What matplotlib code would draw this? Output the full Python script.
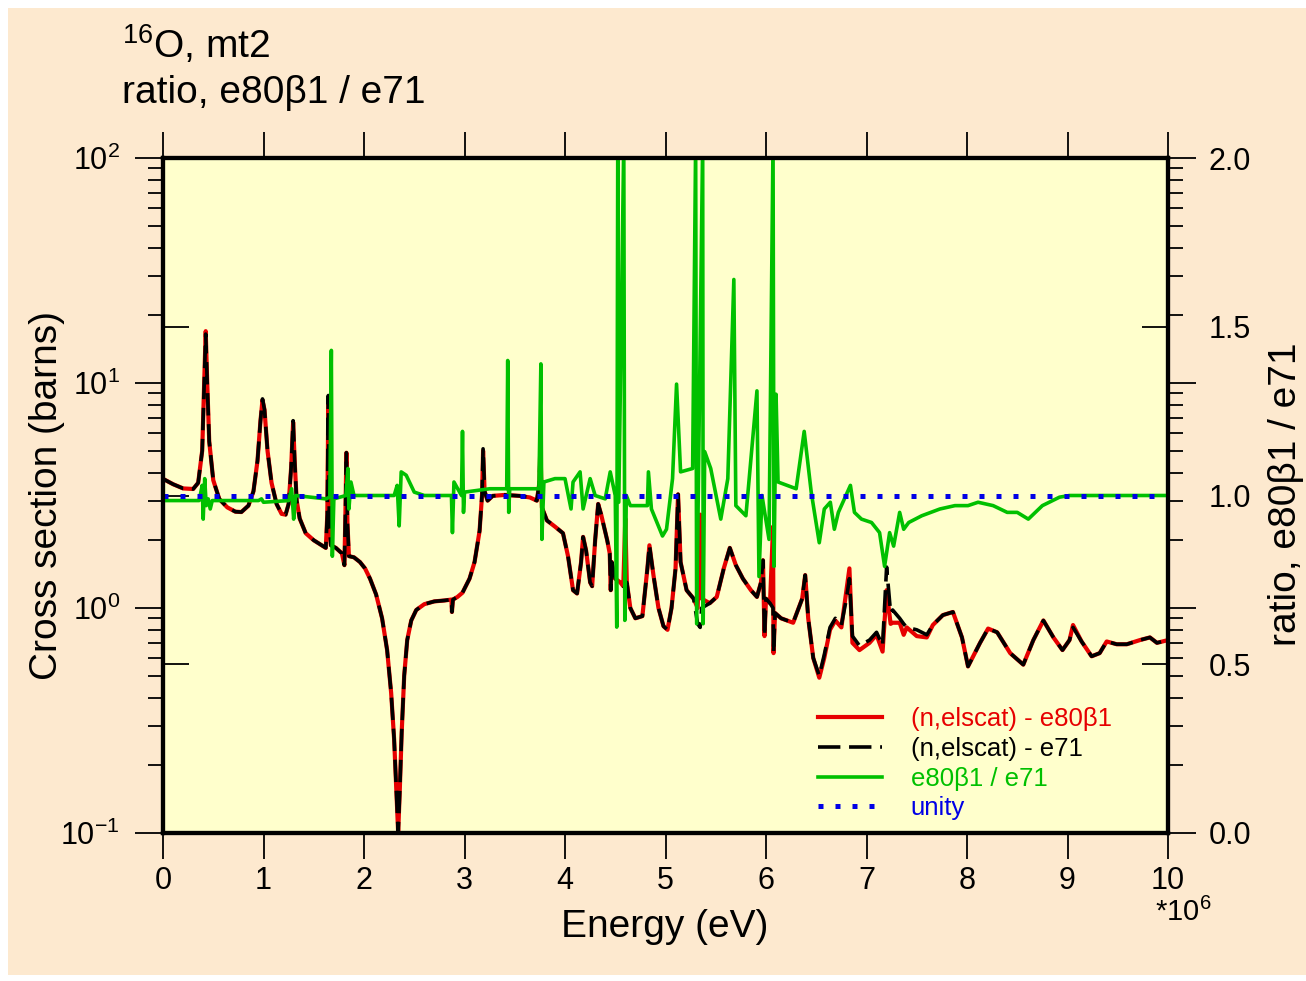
import matplotlib
matplotlib.use("Agg")
import matplotlib.pyplot as plt
from matplotlib.ticker import LogLocator, NullFormatter
from matplotlib.patches import Rectangle

plt.rcParams['font.family'] = ['Liberation Sans', 'DejaVu Sans']
plt.rcParams['mathtext.fontset'] = 'custom'
plt.rcParams['mathtext.rm'] = 'Liberation Sans'
plt.rcParams['mathtext.it'] = 'Liberation Sans:italic'
plt.rcParams['mathtext.bf'] = 'Liberation Sans:bold'

# elastic cross section of O-16, energy in MeV, sigma in barns
energy = [0.00, 0.10, 0.20, 0.30, 0.35, 0.39, 0.41, 0.425, 0.44, 0.46, 0.50, 0.56, 0.64, 0.72, 0.78,
          0.85, 0.90, 0.94, 0.97, 0.99, 1.01, 1.04, 1.08, 1.13, 1.18, 1.22, 1.25, 1.275, 1.295, 1.31,
          1.33, 1.36, 1.42, 1.50, 1.58, 1.62, 1.635, 1.645, 1.655, 1.67, 1.72, 1.78, 1.805, 1.815, 1.825,
          1.835, 1.85, 1.90, 1.96, 2.01, 2.06, 2.12, 2.18, 2.23, 2.27, 2.30, 2.32, 2.34, 2.355, 2.375,
          2.40, 2.43, 2.47, 2.52, 2.60, 2.70, 2.80, 2.87, 2.875, 2.885, 2.93, 2.98, 3.05, 3.10, 3.15,
          3.175, 3.185, 3.20, 3.23, 3.28, 3.40, 3.55, 3.65, 3.72, 3.745, 3.755, 3.77, 3.82, 3.90, 3.98,
          4.03, 4.08, 4.12, 4.16, 4.18, 4.21, 4.25, 4.27, 4.30, 4.33, 4.36, 4.42, 4.445, 4.455, 4.465,
          4.50, 4.55, 4.58, 4.60, 4.615, 4.65, 4.70, 4.77, 4.82, 4.84, 4.88, 4.93, 4.98, 5.02, 5.06,
          5.10, 5.125, 5.15, 5.21, 5.28, 5.32, 5.345, 5.36, 5.44, 5.51, 5.58, 5.64, 5.70, 5.77, 5.85,
          5.91, 5.95, 5.97, 5.985, 6.00, 6.04, 6.07, 6.075, 6.09, 6.15, 6.27, 6.36, 6.39, 6.42, 6.47,
          6.53, 6.58, 6.637, 6.69, 6.75, 6.80, 6.83, 6.86, 6.93, 7.03, 7.10, 7.16, 7.20, 7.24, 7.26,
          7.33, 7.37, 7.40, 7.50, 7.60, 7.66, 7.76, 7.86, 7.95, 8.01, 8.13, 8.21, 8.30, 8.43, 8.56,
          8.66, 8.76, 8.86, 8.95, 9.02, 9.055, 9.14, 9.24, 9.32, 9.39, 9.49, 9.59, 9.72, 9.82, 9.89,
          10.0]
xs_e80b1 = [3.75, 3.55, 3.40, 3.38, 3.60, 5.0, 10.0, 17.0, 10.0, 5.5, 3.7, 3.05, 2.80, 2.68, 2.67,
            2.85, 3.3, 4.5, 6.8, 8.4, 7.6, 5.0, 3.6, 2.9, 2.62, 2.6, 2.9, 4.2, 6.7, 4.5,
            3.0, 2.5, 2.15, 2.0, 1.9, 1.85, 2.6, 8.5, 2.4, 1.9, 1.85, 1.75, 1.55, 2.6, 4.9,
            2.4, 1.7, 1.68, 1.6, 1.5, 1.35, 1.15, 0.9, 0.65, 0.42, 0.26, 0.16, 0.10, 0.15, 0.28,
            0.5, 0.72, 0.88, 0.98, 1.04, 1.07, 1.08, 1.09, 0.96, 1.09, 1.12, 1.17, 1.35, 1.6, 2.2,
            3.2, 5.0, 3.3, 3.0, 3.15, 3.18, 3.15, 3.1, 3.0, 3.6, 5.3, 2.8, 2.45, 2.3, 2.15,
            1.7, 1.2, 1.16, 1.6, 2.07, 1.8, 1.3, 1.25, 2.0, 2.9, 2.6, 2.0, 1.75, 1.2, 1.6,
            1.35, 1.3, 1.25, 2.5, 1.3, 1.0, 0.9, 0.92, 1.5, 1.9, 1.4, 1.0, 0.83, 0.8, 1.0,
            1.5, 3.2, 1.6, 1.2, 1.1, 1.0, 2.6, 1.1, 1.05, 1.12, 1.5, 1.85, 1.55, 1.35, 1.2,
            1.12, 1.3, 1.63, 0.75, 1.1, 1.05, 2.3, 0.63, 0.95, 0.9, 0.86, 1.1, 1.4, 0.9, 0.6,
            0.49, 0.6, 0.80, 0.88, 0.82, 1.2, 1.5, 0.7, 0.65, 0.70, 0.76, 0.64, 1.2, 0.85, 0.86,
            0.86, 0.76, 0.82, 0.75, 0.74, 0.84, 0.93, 0.96, 0.74, 0.55, 0.70, 0.81, 0.78, 0.63, 0.56,
            0.72, 0.88, 0.74, 0.65, 0.72, 0.84, 0.71, 0.61, 0.63, 0.71, 0.69, 0.69, 0.72, 0.74, 0.70,
            0.72]
xs_e71 = [3.75, 3.55, 3.40, 3.38, 3.60, 5.0, 10.0, 16.5, 10.0, 5.5, 3.7, 3.05, 2.80, 2.68, 2.67,
          2.85, 3.3, 4.5, 6.8, 8.5, 7.6, 5.0, 3.6, 2.9, 2.62, 2.6, 2.9, 4.2, 6.8, 4.5,
          3.0, 2.5, 2.15, 2.0, 1.9, 1.85, 2.6, 8.8, 2.4, 1.9, 1.85, 1.75, 1.55, 2.6, 4.9,
          2.4, 1.7, 1.68, 1.6, 1.5, 1.35, 1.15, 0.9, 0.65, 0.42, 0.26, 0.16, 0.10, 0.15, 0.28,
          0.5, 0.72, 0.88, 0.98, 1.04, 1.07, 1.08, 1.09, 0.96, 1.09, 1.12, 1.17, 1.35, 1.6, 2.2,
          3.2, 5.1, 3.3, 3.0, 3.15, 3.18, 3.15, 3.1, 3.0, 3.6, 5.5, 2.8, 2.45, 2.3, 2.15,
          1.7, 1.2, 1.16, 1.6, 2.07, 1.8, 1.3, 1.25, 2.0, 2.9, 2.6, 2.0, 1.75, 1.2, 1.6,
          1.35, 1.3, 1.25, 1.25, 1.3, 1.0, 0.9, 0.92, 1.5, 1.9, 1.4, 1.0, 0.83, 0.8, 1.0,
          1.5, 3.2, 1.6, 1.2, 1.1, 0.85, 0.82, 1.0, 1.05, 1.12, 1.5, 1.85, 1.55, 1.35, 1.2,
          1.12, 1.3, 1.63, 0.75, 1.1, 1.05, 1.0, 0.63, 0.95, 0.9, 0.86, 1.1, 1.4, 0.9, 0.6,
          0.50, 0.62, 0.82, 0.90, 0.84, 1.1, 1.35, 0.75, 0.68, 0.72, 0.78, 0.68, 1.52, 0.95, 0.98,
          0.90, 0.85, 0.82, 0.80, 0.76, 0.84, 0.93, 0.96, 0.74, 0.55, 0.70, 0.81, 0.78, 0.63, 0.56,
          0.72, 0.88, 0.74, 0.65, 0.72, 0.82, 0.71, 0.61, 0.63, 0.71, 0.69, 0.69, 0.72, 0.74, 0.70,
          0.72]

# ratio e80b1 / e71
ratio_energy = [0.00, 0.36, 0.39, 0.40, 0.415, 0.43, 0.45, 0.47, 0.49, 0.95, 0.98, 1.00, 1.25, 1.28,
                1.30, 1.32, 1.62, 1.66, 1.675, 1.685, 1.70, 1.82, 1.84, 1.85, 1.87, 1.90, 2.30, 2.33,
                2.35, 2.37, 2.42, 2.50, 2.60, 2.87, 2.88, 2.895, 2.97, 2.98, 2.99, 3.00, 3.25, 3.42,
                3.43, 3.44, 3.45, 3.74, 3.76, 3.77, 3.79, 3.90, 4.00, 4.06, 4.08, 4.15, 4.18, 4.25,
                4.30, 4.40, 4.45, 4.50, 4.515, 4.525, 4.535, 4.585, 4.595, 4.61, 4.65, 4.82, 4.83, 4.86,
                4.97, 5.01, 5.07, 5.11, 5.15, 5.27, 5.30, 5.31, 5.33, 5.37, 5.375, 5.39, 5.45, 5.55,
                5.62, 5.68, 5.70, 5.80, 5.91, 5.93, 5.96, 6.03, 6.07, 6.08, 6.10, 6.12, 6.30, 6.38,
                6.45, 6.53, 6.58, 6.64, 6.68, 6.72, 6.84, 6.88, 6.95, 7.05, 7.13, 7.18, 7.23, 7.27,
                7.33, 7.37, 7.42, 7.55, 7.73, 7.88, 8.01, 8.11, 8.26, 8.40, 8.50, 8.61, 8.75, 8.92,
                9.02, 10.0]
ratio = [0.985, 0.985, 1.03, 0.93, 1.05, 0.97, 0.99, 0.96, 0.985, 0.985, 0.99, 0.98, 0.985, 1.02,
         0.93, 1.0, 0.99, 0.995, 1.43, 0.82, 0.99, 1.0, 1.08, 0.96, 1.04, 1.0, 1.0, 1.03,
         0.91, 1.07, 1.06, 1.01, 1.0, 1.0, 0.89, 1.04, 1.0, 1.19, 0.95, 1.01, 1.02, 1.02,
         1.40, 0.95, 1.02, 1.02, 1.39, 0.87, 1.04, 1.05, 1.05, 0.96, 1.04, 1.07, 0.96, 1.05,
         1.0, 0.99, 1.07, 1.0, 0.61, 2.05, 0.98, 2.05, 0.63, 1.0, 0.97, 0.97, 1.07, 0.96,
         0.88, 0.90, 1.05, 1.33, 1.07, 1.08, 2.05, 0.62, 1.10, 2.05, 0.62, 1.13, 1.08, 0.93,
         1.05, 1.64, 0.97, 0.94, 1.31, 0.76, 1.0, 0.87, 2.05, 0.79, 1.30, 1.04, 1.02, 1.19,
         1.01, 0.86, 0.96, 0.98, 0.90, 0.95, 1.03, 0.95, 0.93, 0.92, 0.89, 0.79, 0.89, 0.85,
         0.95, 0.90, 0.92, 0.94, 0.96, 0.97, 0.97, 0.98, 0.97, 0.95, 0.95, 0.93, 0.97, 0.995,
         1.0, 1.0]

unity_x = [0.0, 10.0]
unity_y = [1.0, 1.0]

W, H = 1306, 981
peach = '#fde9cf'
red = '#e60000'
green = '#00c000'
blue = '#0000e6'

fig = plt.figure(figsize=(W / 100, H / 100), dpi=100, facecolor='white')
fig.add_artist(Rectangle((8 / W, 6 / H), 1 - 8 / W, 1 - 14 / H, transform=fig.transFigure,
                         facecolor=peach, edgecolor='none', zorder=-10))

ax = fig.add_axes([163 / W, 1 - 833 / H, 1005 / W, 675 / H])
ax.set_facecolor('#ffffcc')
l1, = ax.plot(energy, xs_e80b1, color=red, lw=3.0, label='(n,elscat) - e80β1')
l2, = ax.plot(energy, xs_e71, color='black', lw=2.6, ls=(0, (6.2, 2.4)), label='(n,elscat) - e71')
ax.set_yscale('log')
ax.set_ylim(0.1, 100)
ax.set_xlim(0, 10)
ax.set_xticks(range(11))
ax.yaxis.set_minor_locator(LogLocator(base=10, subs=range(2, 10)))
ax.yaxis.set_minor_formatter(NullFormatter())

ax2 = ax.twinx()
l3, = ax2.plot(ratio_energy, ratio, color=green, lw=2.6, label='e80β1 / e71')
l4, = ax2.plot(unity_x, unity_y, color=blue, lw=3.6, ls=(0, (1.0, 2.4)), label='unity')
ax2.set_ylim(0, 2)
ax2.set_yticks([0, 0.5, 1.0, 1.5, 2.0])
ax2.set_yticklabels(['0.0', '0.5', '1.0', '1.5', '2.0'])

# ticks: log axis outward on both sides, ratio axis inward on both sides
ax.tick_params(axis='y', which='major', direction='out', length=20, width=1.3,
               left=True, right=True, labelleft=True, labelright=False, labelsize=22, pad=11)
ax.tick_params(axis='y', which='minor', direction='out', length=11, width=1.3, left=True, right=True)
ax.tick_params(axis='x', which='major', direction='out', length=19, width=1.3,
               top=True, bottom=True, labeltop=False, labelsize=22, pad=5)
ax2.tick_params(axis='y', which='major', direction='in', length=19, width=1.3,
                left=True, right=True, labelleft=False, labelright=True, labelsize=22, pad=29)
for a in (ax, ax2):
    for s in a.spines.values():
        s.set_linewidth(3)

leg = ax2.legend(handles=[l1, l2, l3, l4], loc='upper left', bbox_to_anchor=(0.652, 0.186),
                 frameon=False, fontsize=18.5, handlelength=2.5, handletextpad=1.1,
                 labelspacing=0.22, borderpad=0, borderaxespad=0, labelcolor='linecolor')

fig.text(122 / W, 1 - 45 / H, r'$^{16}$O, mt2', fontsize=28, ha='left', va='center')
fig.text(122 / W, 1 - 93 / H, 'ratio, e80β1 / e71', fontsize=28, ha='left', va='center')
fig.text(665 / W, 1 - 927 / H, 'Energy (eV)', fontsize=28, ha='center', va='center')
fig.text(47 / W, 1 - 496 / H, 'Cross section (barns)', fontsize=28, rotation=90,
         ha='center', va='center')
fig.text(1286 / W, 1 - 494 / H, 'ratio, e80β1 / e71', fontsize=28, rotation=90,
         ha='center', va='center')
fig.text(1183 / W, 1 - 912 / H, r'*10$^6$', fontsize=21, ha='center', va='center')

fig.savefig('out.png', dpi=100, facecolor=fig.get_facecolor())
